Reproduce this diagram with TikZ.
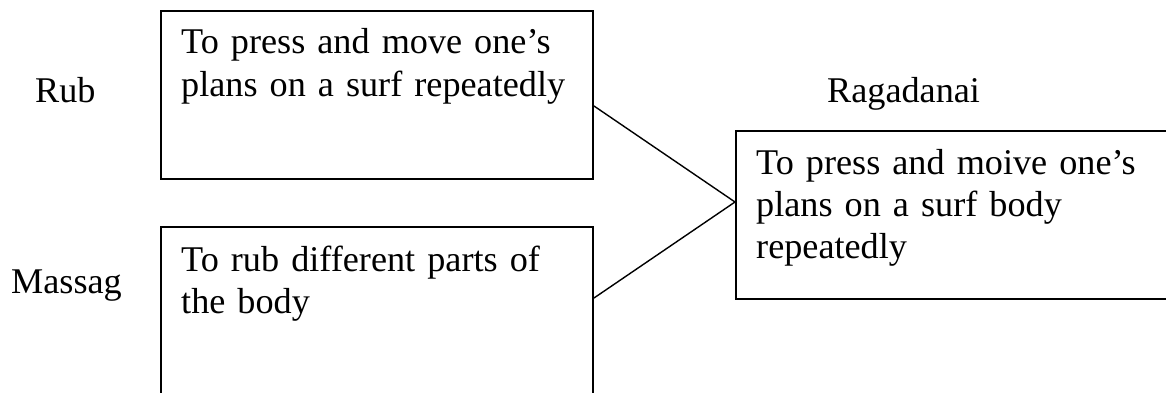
\documentclass[tikz,border=0pt]{standalone}
\usepackage{fontspec}
\setmainfont{Liberation Serif}
\usetikzlibrary{calc}
\tikzset{
  boxshape/.style={draw=black, line width=2pt, rectangle, inner sep=0pt, anchor=north west},
  boxtext/.style={anchor=base west, inner sep=0pt, align=left, font=\fontsize{36.2}{42}\selectfont},
  sidelabel/.style={anchor=base west, inner sep=0pt, font=\fontsize{36.2}{42}\selectfont},
  joinline/.style={draw=black, line width=1.4pt}
}
\begin{document}
\begin{tikzpicture}[x=1pt,y=1pt]
\useasboundingbox (0,0) rectangle (1166,392);
% boxes (y measured from bottom: 392 - y_px)
\node[boxshape, minimum width=432pt, minimum height=168pt] (b1) at (160,382) {};
\node[boxshape, minimum width=432pt, minimum height=190pt] (b2) at (160,166) {};
\node[boxshape, minimum width=450pt, minimum height=168pt] (b3) at (735,262) {};
% texts
\node[boxtext, text width=420pt] (t1) at (181,338) {To press and move one’s\\plans on a surf repeatedly};
\node[boxtext, text width=420pt] (t2) at (181,121) {To rub different parts of\\the body};
\node[boxtext, text width=420pt] (t3) at (756,218) {To press and moive one’s\\plans on a surf body\\repeatedly};
\node[sidelabel] (rub) at (35,290) {Rub};
\node[sidelabel] (mas) at (11,99) {Massag};
\node[sidelabel] (rag) at (827,290) {Ragadanai};
% connectors
\coordinate (v) at ($(b3.north west)+(0,-72)$);
\draw[joinline] ($(b1.north east)+(0,-96)$) -- (v);
\draw[joinline] ($(b2.north east)+(0,-72)$) -- (v);
\end{tikzpicture}
\end{document}
